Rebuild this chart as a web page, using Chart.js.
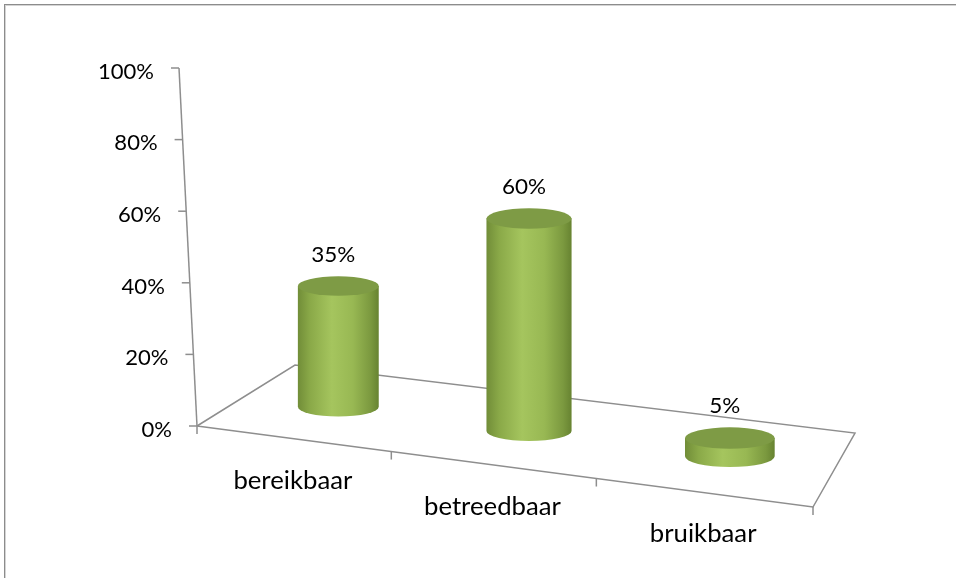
<!DOCTYPE html>
<html>
<head>
<meta charset="utf-8">
<script src="https://cdn.jsdelivr.net/npm/chart.js@4.4.1/dist/chart.umd.min.js"></script>
<style>
  html, body { margin: 0; padding: 0; background: #fff; }
  #wrap { position: relative; width: 956px; height: 578px; overflow: hidden; }
  #kader { position: absolute; left: 4px; top: 4px; width: 1000px; height: 700px;
           border-left: 1px solid #8c8c8c; border-top: 1px solid #8c8c8c;
           box-shadow: inset 1px 1px 0 #d4d4d4; }
  #houder { position: absolute; left: 0; top: 0; width: 956px; height: 578px; }
</style>
</head>
<body>
<div id="wrap">
  <div id="kader"></div>
  <div id="houder"><canvas id="grafiek"></canvas></div>
</div>
<script>
const categorieen = ["bereikbaar", "betreedbaar", "bruikbaar"];
const percentages = [35, 60, 5];
const yTicks = [0, 20, 40, 60, 80, 100];

// hoeken van de 3D vloer (voor-links, voor-rechts, achter-rechts, achter-links)
const FL = [197, 426], FR = [813, 507], BR = [855, 433], BL = [295, 365];
const DIEPTE = 0.48;

function maakVloer(p0, p1, p2, p3) {
    const dx1 = p1[0] - p2[0], dx2 = p3[0] - p2[0], dx3 = p0[0] - p1[0] + p2[0] - p3[0];
    const dy1 = p1[1] - p2[1], dy2 = p3[1] - p2[1], dy3 = p0[1] - p1[1] + p2[1] - p3[1];
    const den = dx1 * dy2 - dx2 * dy1;
    const g = (dx3 * dy2 - dx2 * dy3) / den;
    const h = (dx1 * dy3 - dx3 * dy1) / den;
    const a = p1[0] - p0[0] + g * p1[0], b = p3[0] - p0[0] + h * p3[0], c = p0[0];
    const d = p1[1] - p0[1] + g * p1[1], e = p3[1] - p0[1] + h * p3[1], f = p0[1];
    return (u, v) => {
        const w = g * u + h * v + 1;
        return [(a * u + b * v + c) / w, (d * u + e * v + f) / w, w];
    };
}
const vloer = maakVloer(FL, FR, BR, BL);

// tekst iets horizontaal uitrekken, zoals in het origineel
function tekst(ctx, str, x, y, align, font, rek) {
    ctx.save();
    ctx.font = font;
    ctx.fillStyle = "#000";
    ctx.translate(x, y);
    ctx.scale(rek, 1);
    ctx.textAlign = align;
    ctx.textBaseline = "middle";
    ctx.fillText(str, 0, 0);
    ctx.restore();
}

function cilinder(ctx, cx, yBodem, yTop, rx, ry) {
    let grad = ctx.createLinearGradient(cx - rx, 0, cx + rx, 0);
    grad.addColorStop(0, "#718d38");
    grad.addColorStop(0.15, "#8aa948");
    grad.addColorStop(0.42, "#a5c55e");
    grad.addColorStop(0.68, "#98b853");
    grad.addColorStop(0.9, "#7b993f");
    grad.addColorStop(1, "#678331");

    ctx.beginPath();
    ctx.moveTo(cx - rx, yTop);
    ctx.lineTo(cx - rx, yBodem);
    ctx.ellipse(cx, yBodem, rx, ry, 0, Math.PI, 0, true);
    ctx.lineTo(cx + rx, yTop);
    ctx.closePath();
    ctx.fillStyle = grad;
    ctx.fill();

    ctx.beginPath();
    ctx.ellipse(cx, yTop, rx, ry, 0, 0, Math.PI * 2);
    ctx.fillStyle = "#7e9b45";
    ctx.fill();
}

const cilinders = {
    id: "cilinders",
    beforeDatasetsDraw(chart) {
        const ctx = chart.ctx;
        const y = chart.scales.y;
        const x = chart.scales.x;
        const nul = y.getPixelForValue(0);
        const kantel = (FL[0] - 179) / (nul - y.getPixelForValue(100));
        const asX = v => FL[0] - (nul - y.getPixelForValue(v)) * kantel;

        ctx.save();
        ctx.strokeStyle = "#8e8e8e";
        ctx.lineWidth = 1.5;

        // vloer
        ctx.beginPath();
        ctx.moveTo(FL[0], FL[1]);
        ctx.lineTo(BL[0], BL[1]);
        ctx.lineTo(BR[0], BR[1]);
        ctx.lineTo(FR[0], FR[1]);
        ctx.lineTo(FL[0], FL[1]);
        ctx.stroke();

        // streepjes langs de voorkant
        for (let i = 0; i <= categorieen.length; i++) {
            const p = vloer(i / categorieen.length, 0);
            ctx.beginPath();
            ctx.moveTo(p[0], p[1]);
            ctx.lineTo(p[0], p[1] + 8);
            ctx.stroke();
        }

        // schuine waarde-as
        ctx.beginPath();
        ctx.moveTo(asX(0), nul);
        ctx.lineTo(asX(100), y.getPixelForValue(100));
        ctx.stroke();

        yTicks.forEach(v => {
            const py = y.getPixelForValue(v);
            const px = asX(v);
            ctx.beginPath();
            ctx.moveTo(px - 8, py);
            ctx.lineTo(px, py);
            ctx.stroke();
            tekst(ctx, v + "%", px - 25, py + 4, "right", "21px Lato", 1.05);
        });

        // categorie labels onder de voorkant
        x.getLabels().forEach((lab, i) => {
            const u = (x.getPixelForValue(i) - chart.chartArea.left) / chart.chartArea.width;
            const p = vloer(u, 0);
            tekst(ctx, lab, p[0], p[1] + 42, "center", "24.5px Lato", 1.05);
        });
        ctx.restore();
    },
    afterDatasetsDraw(chart) {
        const ctx = chart.ctx;
        const area = chart.chartArea;
        const meta = chart.getDatasetMeta(0);
        ctx.save();
        meta.data.forEach((bar, i) => {
            const u = (bar.x - area.left) / area.width;
            const du = bar.width / area.width / 2;
            const basis = vloer(u, DIEPTE);
            const links = vloer(u - du, DIEPTE);
            const rechts = vloer(u + du, DIEPTE);
            const rx = (rechts[0] - links[0]) / 2;
            const ry = rx * 0.24;
            const hoogte = (bar.base - bar.y) / basis[2];
            const top = basis[1] - hoogte;
            cilinder(ctx, basis[0], basis[1], top, rx, ry);
            tekst(ctx, percentages[i] + "%", basis[0] - 5, top - ry - 21, "center", "21px Lato", 1.07);
        });
        ctx.restore();
    }
};

new Chart(document.getElementById("grafiek"), {
    type: "bar",
    data: {
        labels: categorieen,
        datasets: [{
            data: percentages,
            backgroundColor: "transparent",
            borderWidth: 0,
            categoryPercentage: 0.87,
            barPercentage: 0.5
        }]
    },
    options: {
        responsive: true,
        maintainAspectRatio: false,
        animation: false,
        layout: { padding: { left: 200, right: 100, top: 68, bottom: 152 } },
        plugins: {
            legend: { display: false },
            tooltip: { enabled: false }
        },
        scales: {
            x: { display: false },
            y: {
                display: false,
                min: 0,
                max: 100,
                afterBuildTicks: s => { s.ticks = yTicks.map(v => ({ value: v })); }
            }
        }
    },
    plugins: [cilinders]
});
</script>
</body>
</html>
